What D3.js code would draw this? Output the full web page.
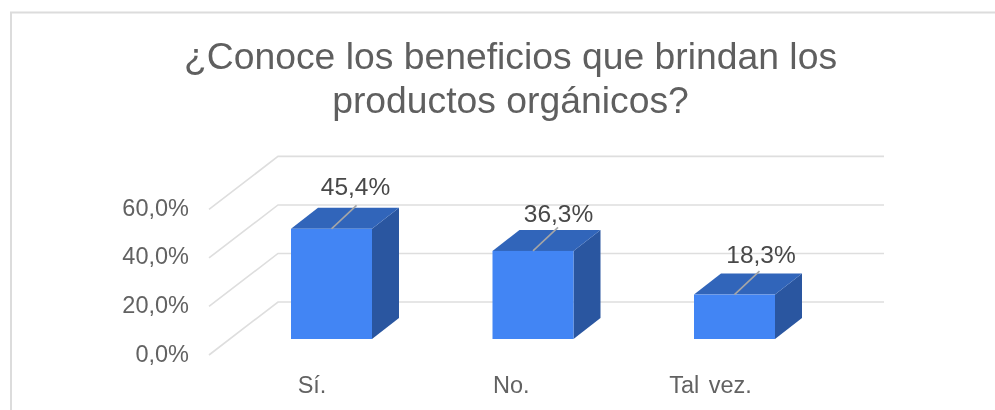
<!DOCTYPE html>
<html><head><meta charset="utf-8">
<script src="https://cdn.jsdelivr.net/npm/d3@7"></script>
<style>html,body{margin:0;padding:0;background:#fff}svg{display:block;filter:blur(.35px)}text{font-family:"Liberation Sans",Arial,sans-serif}</style>
</head><body><svg id="c" width="995" height="410"></svg>
<script>
const categories = ["Sí.","No.","Tal vez."];
const values = [45.4,36.3,18.3];
const valueLabels = ["45,4%","36,3%","18,3%"];
const yTicks = [0,20,40,60];
const tickLabels = ["0,0%","20,0%","40,0%","60,0%"];
const titleLines = ["¿Conoce los beneficios que brindan los","productos orgánicos?"];

const svg = d3.select("#c");
const y = d3.scaleLinear().domain([0,60]).range([0,-145.6]);
const wall = {x0:278,x1:884,y0:302};
const floorDepth = {dx:-69,dy:53};
const x = d3.scaleBand().domain(categories).range([230.55,835.45]).paddingInner(0.598).paddingOuter(0.3);
const xLabel = d3.scalePoint().domain(categories).range([312,710.5]);
const bd = {dx:27,dy:-21}, base = 339;
const labelShiftX = [-1,0.5,1.5];
const labelRise = [34.2,28.6,31.2];

svg.append("path").attr("d","M11,410V12.5H995").attr("fill","none").attr("stroke","#dcdcdc").attr("stroke-width",2);

svg.append("g").selectAll("text").data(titleLines).join("text")
 .attr("x",510.5).attr("y",(d,i)=>69+i*44).attr("text-anchor","middle")
 .attr("font-size",37.3).attr("fill","#5f5f5f").text(d=>d);

const g = svg.append("g");
yTicks.forEach((t,i)=>{
  const yy = wall.y0+y(t);
  g.append("path").attr("d",`M${wall.x0+floorDepth.dx},${yy+floorDepth.dy}L${wall.x0},${yy}H${wall.x1}`)
   .attr("fill","none").attr("stroke","#dedede").attr("stroke-width",1.6);
  g.append("text").attr("x",189).attr("y",yy+59.5).attr("text-anchor","end").attr("font-size",23.5).attr("fill","#626262").text(tickLabels[i]);
});

categories.forEach((c,i)=>{
  const l = x(c), w = x.bandwidth(), r = l+w, top = base+y(values[i]), cx = l+w/2;
  const b = svg.append("g");
  b.append("path").attr("fill","#2a56a0").attr("d",`M${r},${top}l${bd.dx},${bd.dy}V${base+bd.dy}L${r},${base}Z`);
  b.append("path").attr("fill","#3165ba").attr("d",`M${l},${top}l${bd.dx},${bd.dy}H${r+bd.dx}L${r},${top}Z`);
  b.append("rect").attr("x",l).attr("y",top).attr("width",w).attr("height",base-top).attr("fill","#4285f4");
  b.append("line").attr("x1",cx).attr("y1",top).attr("x2",cx+25).attr("y2",top-23.5).attr("stroke","#a6a6a6").attr("stroke-width",1.6);
  b.append("text").attr("x",cx+25+labelShiftX[i]).attr("y",top-labelRise[i]).attr("text-anchor","middle").attr("font-size",24.5).attr("fill","#484848").text(valueLabels[i]);
});

svg.append("g").selectAll("text").data(categories).join("text")
 .attr("x",d=>xLabel(d)).attr("y",393).attr("text-anchor","middle").attr("font-size",23.5).attr("word-spacing",3).attr("fill","#626262").text(d=>d);
</script></body></html>
